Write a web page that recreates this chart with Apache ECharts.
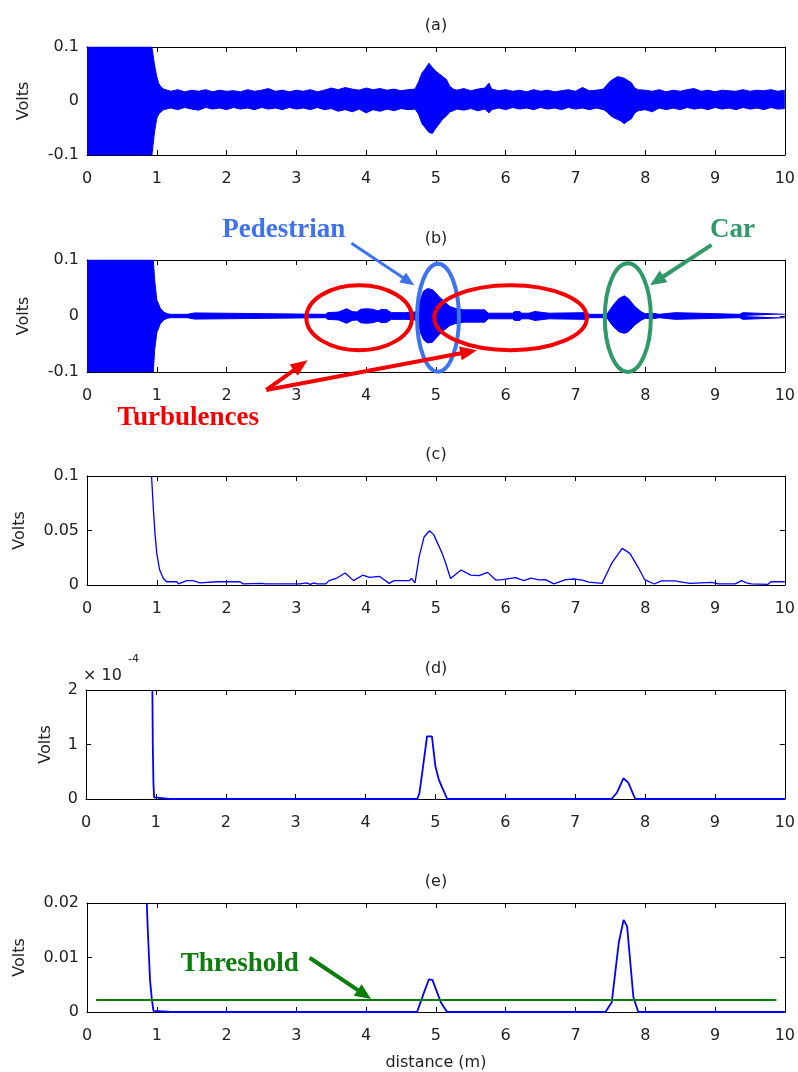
<!DOCTYPE html>
<html><head><meta charset="utf-8">
<script src="https://cdn.jsdelivr.net/npm/echarts@6/dist/echarts.min.js"></script>
<style>html,body{margin:0;padding:0;background:#fff}#chart{width:798px;height:1072px}</style>
</head><body><div id="chart"></div>
<script>
// ---------------- DATA ----------------
const panelTitles = ['(a)', '(b)', '(c)', '(d)', '(e)'];
// (a) raw signal envelope: [distance, lower, upper]
const panelA = [
  [0,-0.1,0.1],[0.93,-0.1,0.1],[0.95,-0.1,0.1],[0.97,-0.055,0.065],[1.0,-0.032,0.045],[1.03,-0.024,0.032],
  [1.06,-0.02,0.026],[1.1,-0.016,0.022],[1.2,-0.013,0.018],[1.3,-0.016,0.021],[1.4,-0.012,0.017],[1.5,-0.015,0.02],
  [1.6,-0.017,0.018],[1.7,-0.012,0.021],[1.8,-0.015,0.017],[1.9,-0.013,0.02],[2.0,-0.016,0.018],[2.1,-0.012,0.019],
  [2.2,-0.015,0.017],[2.3,-0.013,0.021],[2.4,-0.016,0.018],[2.5,-0.012,0.02],[2.6,-0.015,0.023],[2.7,-0.013,0.018],
  [2.8,-0.016,0.02],[2.9,-0.012,0.017],[3.0,-0.015,0.02],[3.1,-0.013,0.018],[3.2,-0.016,0.021],[3.3,-0.012,0.017],
  [3.4,-0.016,0.02],[3.5,-0.014,0.024],[3.6,-0.019,0.021],[3.7,-0.016,0.025],[3.8,-0.02,0.022],[3.9,-0.015,0.02],
  [4.0,-0.022,0.024],[4.1,-0.016,0.021],[4.2,-0.019,0.023],[4.3,-0.015,0.02],[4.4,-0.018,0.022],[4.5,-0.014,0.019],
  [4.6,-0.016,0.021],[4.7,-0.015,0.022],[4.75,-0.024,0.035],[4.8,-0.042,0.052],[4.85,-0.05,0.06],[4.9,-0.058,0.07],
  [4.95,-0.06,0.062],[5.0,-0.05,0.055],[5.05,-0.042,0.05],[5.1,-0.033,0.045],[5.15,-0.028,0.04],[5.2,-0.02,0.027],
  [5.25,-0.018,0.022],[5.3,-0.015,0.02],[5.4,-0.017,0.023],[5.5,-0.014,0.019],[5.6,-0.018,0.022],[5.7,-0.015,0.024],
  [5.76,-0.022,0.033],[5.8,-0.016,0.022],[5.9,-0.013,0.019],[6.0,-0.016,0.021],[6.1,-0.012,0.018],[6.2,-0.015,0.02],
  [6.3,-0.013,0.017],[6.4,-0.016,0.021],[6.5,-0.012,0.018],[6.6,-0.015,0.02],[6.7,-0.013,0.017],[6.8,-0.016,0.019],
  [6.9,-0.012,0.021],[7.0,-0.015,0.018],[7.1,-0.013,0.025],[7.2,-0.016,0.019],[7.3,-0.013,0.02],[7.4,-0.016,0.022],
  [7.45,-0.02,0.03],[7.5,-0.027,0.037],[7.55,-0.031,0.041],[7.6,-0.034,0.045],[7.65,-0.037,0.044],[7.7,-0.042,0.042],
  [7.75,-0.037,0.038],[7.8,-0.033,0.034],[7.85,-0.022,0.024],[7.9,-0.018,0.021],[8.0,-0.016,0.02],[8.1,-0.02,0.018],
  [8.2,-0.013,0.021],[8.3,-0.016,0.017],[8.4,-0.013,0.02],[8.5,-0.016,0.018],[8.6,-0.012,0.021],[8.7,-0.015,0.023],
  [8.8,-0.013,0.018],[8.9,-0.016,0.02],[9.0,-0.012,0.017],[9.1,-0.015,0.02],[9.2,-0.013,0.019],[9.3,-0.016,0.018],
  [9.4,-0.012,0.021],[9.5,-0.015,0.018],[9.6,-0.013,0.02],[9.7,-0.016,0.019],[9.8,-0.012,0.021],[9.9,-0.015,0.018],
  [10.0,-0.014,0.02]
];
// (b) filtered signal envelope: [distance, lower, upper]
const panelB = [
  [0,-0.1,0.1],[0.95,-0.1,0.1],[0.97,-0.06,0.064],[1.0,-0.03,0.029],[1.05,-0.014,0.014],[1.1,-0.007,0.007],
  [1.15,-0.004,0.004],[1.2,-0.003,0.003],[1.44,-0.003,0.003],[1.45,-0.0055,0.0055],[1.54,-0.0055,0.0055],
  [1.55,-0.003,0.003],[3.42,-0.003,0.003],[3.45,-0.006,0.006],[3.6,-0.007,0.007],[3.66,-0.01,0.01],
  [3.72,-0.013,0.013],[3.8,-0.008,0.008],[3.87,-0.007,0.007],[3.92,-0.012,0.012],[4.0,-0.013,0.013],
  [4.1,-0.012,0.012],[4.17,-0.009,0.009],[4.22,-0.012,0.012],[4.3,-0.011,0.011],[4.36,-0.006,0.006],
  [4.55,-0.006,0.006],[4.7,-0.007,0.007],[4.75,-0.012,0.012],[4.78,-0.03,0.03],[4.82,-0.042,0.044],
  [4.88,-0.048,0.049],[4.95,-0.047,0.047],[5.0,-0.04,0.041],[5.05,-0.033,0.034],[5.12,-0.025,0.026],
  [5.2,-0.017,0.017],[5.27,-0.014,0.014],[5.35,-0.012,0.012],[5.4,-0.011,0.011],[5.7,-0.011,0.011],
  [5.75,-0.005,0.005],[6.1,-0.005,0.005],[6.13,-0.008,0.008],[6.2,-0.008,0.008],[6.23,-0.005,0.005],
  [6.33,-0.005,0.005],[6.35,-0.008,0.008],[6.42,-0.008,0.008],[6.44,-0.005,0.005],[6.62,-0.005,0.005],
  [6.64,-0.006,0.006],[7.15,-0.006,0.006],[7.2,-0.003,0.003],[7.45,-0.003,0.003],[7.5,-0.012,0.012],
  [7.55,-0.02,0.021],[7.62,-0.028,0.031],[7.7,-0.031,0.036],[7.76,-0.028,0.031],[7.85,-0.016,0.017],
  [7.95,-0.007,0.007],[8.0,-0.004,0.004],[8.1,-0.005,0.005],[8.2,-0.003,0.003],[8.22,-0.006,0.006],
  [8.43,-0.006,0.006],[8.45,-0.003,0.003],[9.35,-0.003,0.003],[9.36,-0.006,0.006],[9.4,-0.006,0.006],
  [9.41,-0.003,0.003],[10,-0.003,0.003]
];
// (c) envelope: [distance, volts]
const panelC = [
  [0.925,0.1],[0.952,0.069],[0.976,0.046],[1.0,0.029],[1.04,0.014],[1.095,0.006],[1.14,0.003],[1.29,0.003],
  [1.31,0.001],[1.43,0.004],[1.52,0.004],[1.62,0.002],[1.86,0.003],[2.19,0.003],[2.24,0.001],[2.5,0.0015],
  [2.55,0.001],[3.05,0.001],[3.15,0.002],[3.2,0.0005],[3.25,0.002],[3.3,0.001],[3.42,0.001],[3.47,0.004],
  [3.57,0.006],[3.7,0.011],[3.82,0.004],[3.95,0.009],[4.05,0.007],[4.19,0.008],[4.33,0.0015],[4.4,0.004],
  [4.5,0.004],[4.62,0.004],[4.65,0.006],[4.7,0.002],[4.76,0.026],[4.83,0.044],[4.91,0.0498],[4.97,0.046],
  [5.09,0.029],[5.14,0.02],[5.21,0.006],[5.36,0.0138],[5.5,0.009],[5.62,0.0086],[5.74,0.0116],[5.86,0.0045],
  [5.95,0.005],[6.14,0.0067],[6.26,0.004],[6.36,0.0064],[6.48,0.0047],[6.57,0.005],[6.69,0.001],[6.86,0.005],
  [6.98,0.0055],[7.1,0.0045],[7.19,0.0026],[7.38,0.0015],[7.52,0.02],[7.67,0.0336],[7.78,0.029],[7.9,0.016],
  [7.99,0.005],[8.13,0.0009],[8.23,0.0037],[8.42,0.0037],[8.64,0.0015],[8.95,0.0024],[9.05,0.001],[9.29,0.001],
  [9.38,0.004],[9.45,0.002],[9.52,0.001],[9.76,0.0006],[9.8,0.003],[10,0.003]
];
// (d) energy: [distance, volts]
const panelD = [
  [0.95,2e-4],[0.956,0.96e-4],[0.965,0.29e-4],[0.975,0.03e-4],[0.99,0],[1.2,0],[2.5,0],[4.74,0],[4.77,0.1e-4],
  [4.81,0.47e-4],[4.88,1.15e-4],[4.95,1.15e-4],[5.0,0.6e-4],[5.05,0.35e-4],[5.1,0.2e-4],[5.17,0],[6.3,0],[7.52,0],
  [7.6,0.12e-4],[7.69,0.38e-4],[7.76,0.3e-4],[7.86,0],[9,0],[10,0]
];
// (e) detection: [distance, volts]
const panelE = [
  [0.857,0.02],[0.871,0.0151],[0.904,0.0057],[0.929,0.0024],[0.952,0.0002],[0.97,0],[1.2,0],[2.5,0],[4.73,0],
  [4.83,0.0036],[4.9,0.006],[4.95,0.0059],[5.07,0.0018],[5.16,0],[6.3,0],[7.43,0],[7.52,0.0018],[7.62,0.0127],
  [7.69,0.0169],[7.74,0.0157],[7.83,0.0027],[7.9,0],[9,0],[10,0]
];
const thresholdLine = [[0.13,0.0022],[9.88,0.0022]];
// y ranges: [min, max, interval]
const yRanges = [[-0.1,0.1,0.1],[-0.1,0.1,0.1],[0,0.1,0.05],[0,2e-4,1e-4],[0,0.02,0.01]];

// ---------------- LAYOUT ----------------
const plotLefts = [87, 87, 87, 86, 87];
const plotRight = 787;
const plotTops = [47, 260, 476, 690, 903];
const plotHeights = [108, 112, 109, 109, 110];
const nameGaps = [55, 55, 59, 32, 59];
const FONT = 'DejaVu Sans';
const TXT = '#222';
const BLUE = '#0000ff';

const grids = plotTops.map((t, i) => ({left: plotLefts[i], top: t, width: plotRight - plotLefts[i], height: plotHeights[i], containLabel: false}));

const xAxes = [];
const yAxes = [];
for (let i = 0; i < 5; i++) {
  xAxes.push({gridIndex: i, type: 'value', min: 0, max: 10, interval: 1, position: 'bottom',
    axisLine: {show: true, onZero: false, lineStyle: {color: '#000', width: 1}},
    axisTick: {show: true, inside: true, length: 5, lineStyle: {color: '#000', width: 1}},
    axisLabel: {show: true, margin: 16, fontFamily: FONT, fontSize: 16, color: TXT},
    splitLine: {show: false},
    name: i === 4 ? 'distance (m)' : '', nameLocation: 'middle', nameGap: 43,
    nameTextStyle: {fontFamily: FONT, fontSize: 16, color: TXT}});
  yAxes.push({gridIndex: i, type: 'value', min: yRanges[i][0], max: yRanges[i][1], interval: yRanges[i][2], position: 'left',
    axisLine: {show: true, onZero: false, lineStyle: {color: '#000', width: 1}},
    axisTick: {show: true, inside: true, length: 5, lineStyle: {color: '#000', width: 1}},
    axisLabel: {show: true, margin: 8, fontFamily: FONT, fontSize: 16, color: TXT,
      formatter: i === 3 ? (v => String(Math.round(v * 1e4))) : null},
    splitLine: {show: false},
    name: 'Volts', nameLocation: 'middle', nameRotate: 90, nameGap: nameGaps[i],
    nameTextStyle: {fontFamily: FONT, fontSize: 16, color: TXT}});
}
for (let i = 0; i < 5; i++) {
  xAxes.push({gridIndex: i, type: 'value', min: 0, max: 10, interval: 1, position: 'top',
    axisLine: {show: true, onZero: false, lineStyle: {color: '#000', width: 1}},
    axisTick: {show: true, inside: true, length: 5, lineStyle: {color: '#000', width: 1}},
    axisLabel: {show: false}, splitLine: {show: false}});
  yAxes.push({gridIndex: i, type: 'value', min: yRanges[i][0], max: yRanges[i][1], interval: yRanges[i][2], position: 'right',
    axisLine: {show: true, onZero: false, lineStyle: {color: '#000', width: 1}},
    axisTick: {show: true, inside: true, length: 5, lineStyle: {color: '#000', width: 1}},
    axisLabel: {show: false}, splitLine: {show: false}});
}

function bandSeries(rows, idx) {
  const common = {type: 'line', xAxisIndex: idx, yAxisIndex: idx, showSymbol: false, symbol: 'none',
    lineStyle: {color: BLUE, width: 1}, areaStyle: {color: BLUE, opacity: 1, origin: 'auto'}, silent: true, z: 3};
  return [
    Object.assign({}, common, {data: rows.map(r => [r[0], r[2]])}),
    Object.assign({}, common, {data: rows.map(r => [r[0], r[1]])})
  ];
}
function lineSeries(rows, idx, width) {
  return {type: 'line', xAxisIndex: idx, yAxisIndex: idx, showSymbol: false, symbol: 'none', clip: false,
    lineStyle: {color: BLUE, width: width}, data: rows, silent: true, z: 3};
}

const series = [
  ...bandSeries(panelA, 0),
  ...bandSeries(panelB, 1),
  lineSeries(panelC, 2, 1.3),
  lineSeries(panelD, 3, 1.8),
  lineSeries(panelE, 4, 1.8),
  {type: 'line', xAxisIndex: 4, yAxisIndex: 4, showSymbol: false, symbol: 'none',
    lineStyle: {color: '#0a7d0a', width: 2}, data: thresholdLine, silent: true, z: 4}
];

const titles = panelTitles.map((t, i) => ({text: t, left: 436, top: plotTops[i] - 29, textAlign: 'center', padding: 0,
  textStyle: {fontFamily: FONT, fontSize: 16, fontWeight: 'normal', color: TXT}}));

const chart = echarts.init(document.getElementById('chart'), null, {renderer: 'canvas'});
chart.setOption({animation: false, backgroundColor: '#fff', title: titles, grid: grids, xAxis: xAxes, yAxis: yAxes, series: series});

// ---------------- ANNOTATIONS (in data units of their panel) ----------------
const PED_BLUE = '#3f72ee', CAR_GREEN = '#2f9a68', RED = '#f40000', TH_GREEN = '#0a7d0a';
const ellipsesB = [
  {c: [5.03, -0.003], r: [0.30, 0.0964], color: PED_BLUE},
  {c: [3.90, -0.003], r: [0.757, 0.058], color: RED},
  {c: [6.07, -0.003], r: [1.093, 0.058], color: RED},
  {c: [7.75, -0.003], r: [0.33, 0.097], color: CAR_GREEN}
];
const labelsB = [
  {text: 'Pedestrian', at: [2.82, 0.154], color: PED_BLUE},
  {text: 'Car', at: [9.25, 0.154], color: CAR_GREEN},
  {text: 'Turbulences', at: [1.45, -0.182], color: RED}
];
const arrowsB = [
  {from: [3.79, 0.130], to: [4.69, 0.055], color: PED_BLUE, w: 3, hl: 14, hw: 12},
  {from: [8.95, 0.127], to: [8.07, 0.055], color: CAR_GREEN, w: 4, hl: 16, hw: 14},
  {from: [2.57, -0.132], to: [3.16, -0.079], color: RED, w: 4, hl: 17, hw: 14},
  {from: [2.57, -0.132], to: [5.59, -0.061], color: RED, w: 4, hl: 17, hw: 14}
];
const labelsE = [{text: 'Threshold', at: [2.19, 0.0088], color: TH_GREEN}];
const arrowsE = [{from: [3.19, 0.00995], to: [4.07, 0.0024], color: TH_GREEN, w: 4, hl: 16, hw: 14}];

function px(idx, p) { return chart.convertToPixel({xAxisIndex: idx, yAxisIndex: idx}, p); }
function arrowEls(p0, p1, color, w, hl, hw) {
  const dx = p1[0] - p0[0], dy = p1[1] - p0[1], L = Math.hypot(dx, dy), ux = dx / L, uy = dy / L;
  const bx = p1[0] - ux * hl, by = p1[1] - uy * hl, nx = -uy, ny = ux;
  return [
    {type: 'line', silent: true, z: 10, shape: {x1: p0[0], y1: p0[1], x2: bx + ux * 2, y2: by + uy * 2}, style: {stroke: color, lineWidth: w}},
    {type: 'polygon', silent: true, z: 10, shape: {points: [[p1[0], p1[1]], [bx + nx * hw / 2, by + ny * hw / 2], [bx - nx * hw / 2, by - ny * hw / 2]]}, style: {fill: color}}
  ];
}
const g = [];
ellipsesB.forEach(e => {
  const c = px(1, e.c), a = px(1, [e.c[0] + e.r[0], e.c[1] + e.r[1]]);
  g.push({type: 'ellipse', silent: true, z: 10, shape: {cx: c[0], cy: c[1], rx: Math.abs(a[0] - c[0]), ry: Math.abs(a[1] - c[1])},
    style: {fill: null, stroke: e.color, lineWidth: 4}});
});
function addLabels(list, idx) {
  list.forEach(l => {
    const p = px(idx, l.at);
    g.push({type: 'text', silent: true, z: 10, x: p[0], y: p[1],
      style: {text: l.text, fill: l.color, font: 'bold 27px "Liberation Serif"', align: 'center', verticalAlign: 'middle'}});
  });
}
addLabels(labelsB, 1);
addLabels(labelsE, 4);
arrowsB.forEach(a => g.push(...arrowEls(px(1, a.from), px(1, a.to), a.color, a.w, a.hl, a.hw)));
arrowsE.forEach(a => g.push(...arrowEls(px(4, a.from), px(4, a.to), a.color, a.w, a.hl, a.hw)));
// exponent label of panel (d)
const expAnchor = px(3, [0, 2e-4]);
g.push({type: 'text', silent: true, x: expAnchor[0] - 3, y: expAnchor[1] - 14,
  style: {text: '× 10', fill: TXT, font: '16px "DejaVu Sans"', align: 'left', verticalAlign: 'middle'}});
g.push({type: 'text', silent: true, x: expAnchor[0] + 42, y: expAnchor[1] - 31,
  style: {text: '-4', fill: TXT, font: '11px "DejaVu Sans"', align: 'left', verticalAlign: 'middle'}});
chart.setOption({graphic: g});
</script></body></html>
